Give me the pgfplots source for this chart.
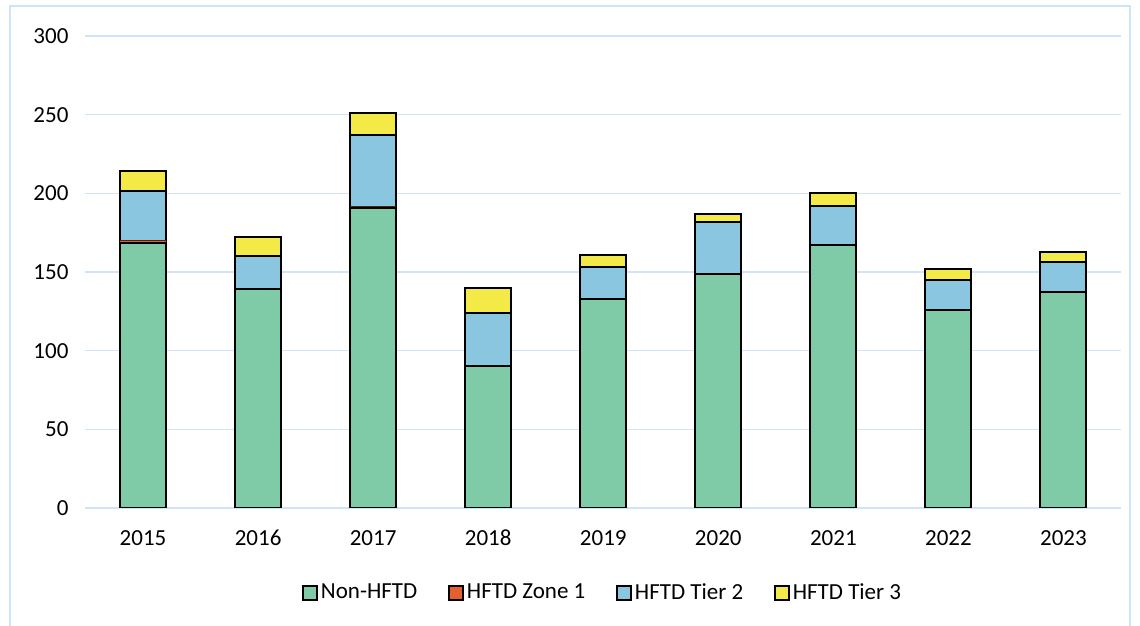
\documentclass[border=0pt]{standalone}
\usepackage{pgfplots}
\pgfplotsset{compat=1.18}
\usepackage{pgfplotstable}
\usepackage{fontspec}
\setmainfont{Carlito}

\definecolor{nonhftd}{RGB}{127,203,168}
\definecolor{zoneone}{RGB}{226,97,47}
\definecolor{tiertwo}{RGB}{138,198,224}
\definecolor{tierthree}{RGB}{243,234,71}
\definecolor{gridblue}{RGB}{207,228,248}

% year index, Non-HFTD, HFTD Zone 1, HFTD Tier 2, HFTD Tier 3
\pgfplotstableread{
x  non    z1   t2    t3
0  168.5  1.5  31.5  12.5
1  139    0    21    12
2  190.5  1    45.5  14.3
3  90     0    34    16
4  133    0    20    7.5
5  149    0    33    5
6  167    0    25    8
7  126    0    19    7
8  137.5  0    19    6.5
}\outages

\begin{document}
\begin{tikzpicture}[x=0.5pt,y=0.5pt]
\useasboundingbox (0,0) rectangle (1140,626);
\draw[gridblue, line width=1pt] (10,-5) -- (10,620) -- (1130,620) -- (1130,-5);
\begin{axis}[
    at={(42.75pt,59pt)}, anchor=south west,
    scale only axis,
    width=517.75pt, height=236pt,
    ybar stacked,
    bar width=23pt,
    xmin=-0.5, xmax=8.5,
    ymin=0, ymax=300,
    xtick={0,...,8},
    xticklabels={2015,2016,2017,2018,2019,2020,2021,2022,2023},
    ytick={0,50,...,300},
    axis line style={draw=none},
    tick style={draw=none},
    ymajorgrids,
    grid style={gridblue, line width=0.8pt},
    /pgf/number format/assume math mode=true,
    ticklabel style={font=\fontsize{11.5}{13}\selectfont, text=black},
    yticklabel style={xshift=-5pt},
    xticklabel style={yshift=-7pt, text height=8pt, text depth=0pt},
    every axis plot/.append style={draw=black, line width=1pt},
    legend style={at={(0.5,-0.18)}, anchor=center, draw=none,
        legend columns=4, font=\fontsize{11.5}{13}\selectfont,
        /tikz/every even column/.append style={column sep=14pt},
        nodes={inner sep=1.5pt}},
    legend image code/.code={\draw[#1, line width=0.8pt] (0pt,-3.5pt) rectangle (7pt,3.5pt);},
]
\addplot[fill=nonhftd] table[x=x, y=non] {\outages};
\addlegendentry{Non-HFTD}
\addplot[fill=zoneone, draw=none] table[x=x, y=z1] {\outages};
\addlegendentry{HFTD Zone 1}
\addplot[fill=tiertwo] table[x=x, y=t2] {\outages};
\addlegendentry{HFTD Tier 2}
\addplot[fill=tierthree] table[x=x, y=t3] {\outages};
\addlegendentry{HFTD Tier 3}
\end{axis}
\end{tikzpicture}
\end{document}
